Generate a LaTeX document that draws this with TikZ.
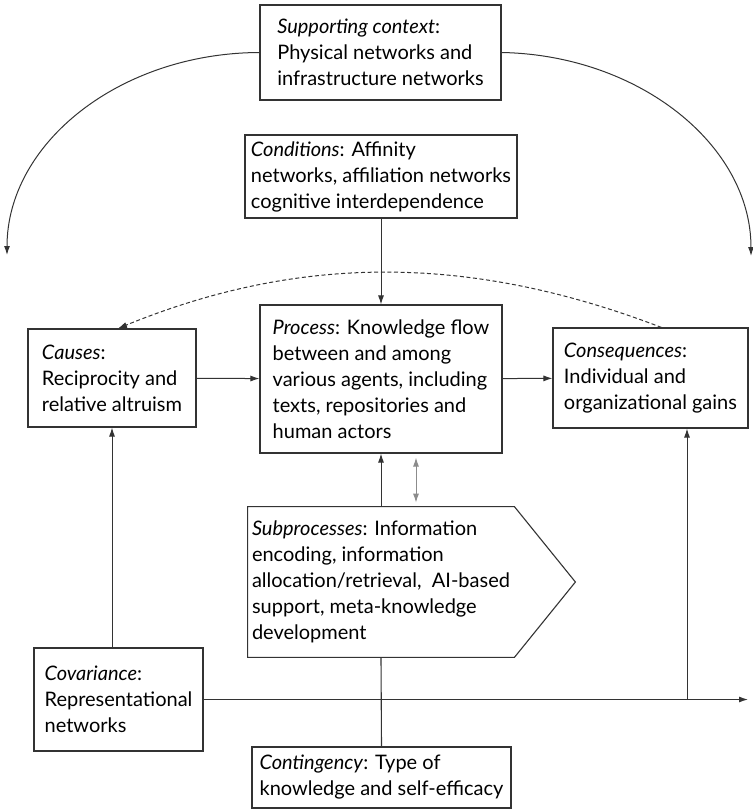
\documentclass[tikz,border=0pt]{standalone}
\usepackage{fontspec}
\setmainfont{Lato}
\usetikzlibrary{calc,arrows.meta}

\begin{document}
\begin{tikzpicture}[x=0.5pt,y=-0.5pt,
	every text node part/.style={align=left},
	font=\fontsize{10}{13}\selectfont,
	box/.style={draw=black!80,line width=0.55pt,inner sep=0pt},
	link/.style={draw=black!80,line width=0.5pt,-{Latex[length=4.5pt,width=3pt]}}]

	\useasboundingbox (0,0) rectangle (753,809);

		% Framework boxes
        \node[box,minimum width=120.5pt,minimum height=47.5pt] (support) at (380.5,52.5) {\textit{Supporting context}:\\Physical networks and\\infrastructure networks};
        \node[box,minimum width=136pt,minimum height=41.5pt] (cond) at (381,176.5) {\textit{Conditions}: Affinity\\networks, affiliation networks\\cognitive interdependence};
        \node[box,minimum width=121pt,minimum height=74pt] (proc) at (381,379) {\textit{Process}: Knowledge flow\\between and among\\various agents, including\\texts, repositories and\\human actors};
        \node[box,minimum width=84pt,minimum height=49pt] (causes) at (112,378) {\textit{Causes}:\\Reciprocity and\\relative altruism};
        \node[box,minimum width=97.5pt,minimum height=50pt] (cons) at (650.5,378) {\textit{Consequences}:\\Individual and\\organizational gains};
        \node[minimum width=133pt,minimum height=75pt,inner sep=0pt] (sub) at (381,582) {\textit{Subprocesses}: Information\\encoding, information\\allocation/retrieval,\ \ AI-based\\support, meta-knowledge\\development};
        \node[box,minimum width=84.5pt,minimum height=51.5pt] (cov) at (118.5,699.5) {\textit{Covariance}:\\Representational\\networks};
        \node[box,minimum width=129.5pt,minimum height=30.5pt] (cont) at (381.5,777.5) {\textit{Contingency}: Type of\\knowledge and self-efficacy};

		% Subprocess arrow shape
		\draw[box] (sub.north west) -- (sub.north east) -- ($(sub.east)+(61,0)$) -- (sub.south east) -- (sub.south west) -- cycle;

		% Free ends
		\coordinate (lefttip) at (7,255);
		\coordinate (righttip) at (751,256);
		\coordinate (rightend) at (748,699.5);
		\coordinate (consfoot) at (687,699.5);

    	\draw [link] (support.west) .. controls (120,53) and (7,143) .. (lefttip);
    	\draw [link] (support.east) .. controls (639,55) and (751,145) .. (righttip);
		\draw [link,dash pattern=on 2pt off 1.3pt] ($(cons.north)+(11,0)$) .. controls (470,254) and (300,254) .. ($(causes.north)+(6,0)$);
		\draw [link] (cond)   to (proc);
		\draw [link] (causes) to (proc);
		\draw [link] (proc)   to (cons);
		\draw [link] (sub)    to (proc);
		\draw [{Latex[length=4.5pt,width=3pt]}-{Latex[length=4.5pt,width=3pt]},black!45,line width=0.5pt,shorten <=2pt,shorten >=2pt] ($(sub.north)+(35,0)$) to ($(proc.south)+(35,0)$);
		\draw [link] (cov.north -| causes) to (causes.south);
		\draw [link] (cov.east) to (rightend);
		\draw [link] (consfoot) to (consfoot |- cons.south);
		\draw [box] (sub.south) to (cont.north);

	\end{tikzpicture}
\end{document}
